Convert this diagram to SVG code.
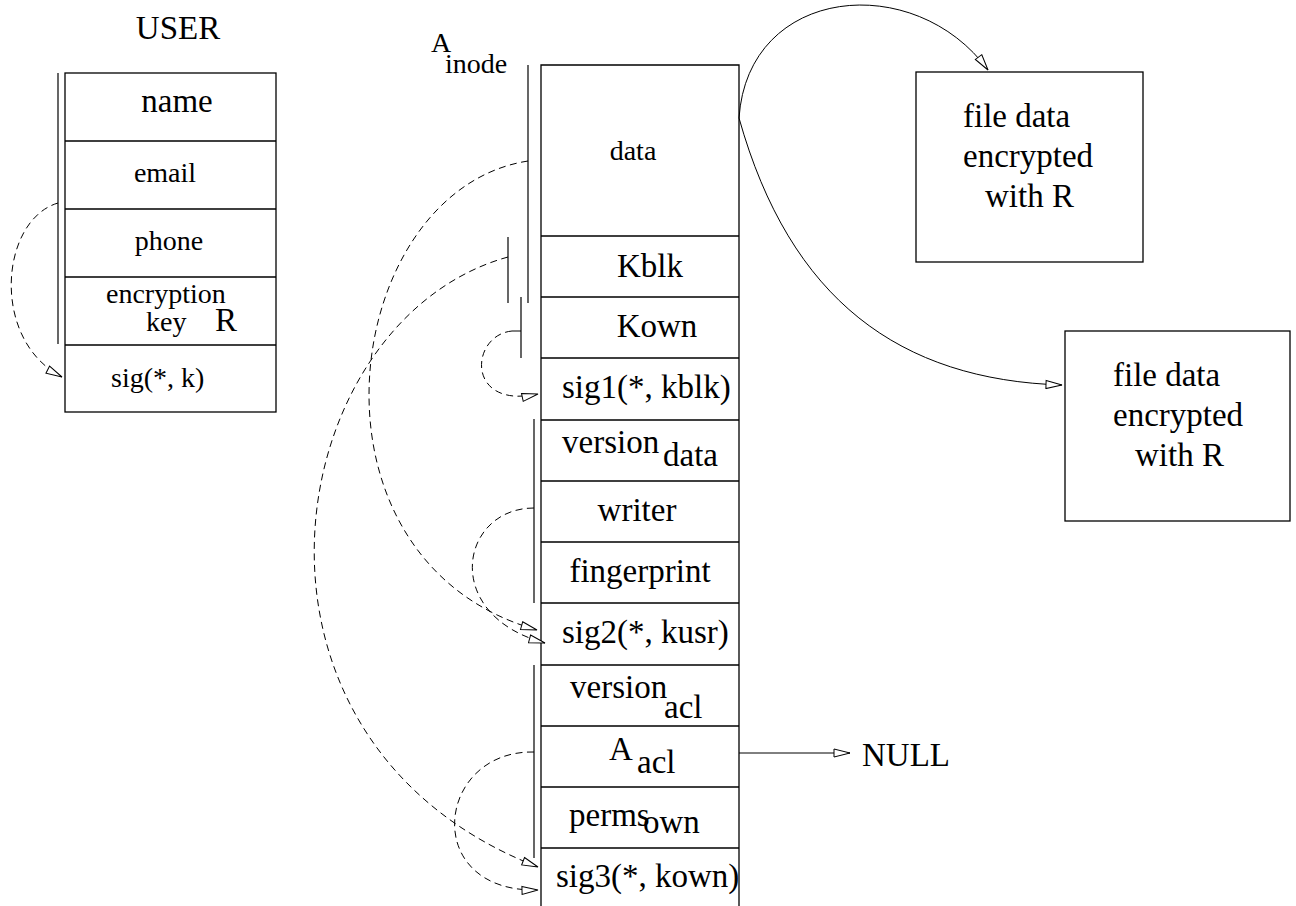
<svg xmlns="http://www.w3.org/2000/svg" width="1296" height="906" viewBox="0 0 1296 906">
  <style>
    text { font-family: "Liberation Serif", "Times New Roman", serif; fill: #000; }
    .f33 { font-size: 33px; }
    .f28 { font-size: 28px; }
    .mid { text-anchor: middle; }
    .box { fill: none; stroke: #000; stroke-width: 1.3; }
    .rule { stroke: #000; stroke-width: 1.3; fill: none; }
    .bar { stroke: #000; stroke-width: 1.2; fill: none; }
    .dash { fill: none; stroke: #000; stroke-width: 1; stroke-dasharray: 7 4.5; marker-end: url(#open); }
    .solid { fill: none; stroke: #000; stroke-width: 1; marker-end: url(#open); }
  </style>
  <defs>
    <marker id="open" viewBox="0 0 18 10" refX="17" refY="5" markerWidth="18" markerHeight="10" markerUnits="userSpaceOnUse" orient="auto">
      <path d="M1,1 L17,5 L1,9 Z" fill="#fff" stroke="#000" stroke-width="1" stroke-dasharray="none"/>
    </marker>
  </defs>
  <rect width="1296" height="906" fill="#fff"/>

  <!-- user record -->
  <g id="user">
    <text class="f33 mid" x="178" y="39">USER</text>
    <rect class="box" x="65" y="73" width="211" height="339"/>
    <path class="rule" d="M65,141 H276 M65,209 H276 M65,277 H276 M65,345 H276"/>
    <line class="bar" x1="58" y1="73" x2="58" y2="344"/>
    <text class="f33 mid" x="177" y="112">name</text>
    <text class="f28 mid" x="165" y="182">email</text>
    <text class="f28 mid" x="169" y="250">phone</text>
    <text class="f28" x="106" y="303">encryption</text>
    <text class="f28" x="146" y="331">key</text>
    <text class="f33" x="215" y="331">R</text>
    <text class="f28" x="111" y="387">sig(*, k)</text>
  </g>

  <!-- inode label -->
  <g id="inode-label">
    <text class="f28" x="431" y="52">A</text>
    <text class="f28" x="445" y="73">inode</text>
  </g>

  <!-- inode record -->
  <g id="inode">
    <path class="rule" d="M541,906 V65 H739 V906"/>
    <path class="rule" d="M541,236 H739 M541,297 H739 M541,358 H739 M541,420 H739 M541,481 H739 M541,542 H739 M541,603 H739 M541,665 H739 M541,726 H739 M541,787 H739 M541,848 H739"/>
    <text class="f28 mid" x="633" y="160">data</text>
    <text class="f33 mid" x="650" y="277">Kblk</text>
    <text class="f33 mid" x="657" y="337">Kown</text>
    <text class="f33" x="562" y="398">sig1(*, kblk)</text>
    <text class="f33" x="562" y="453">version</text>
    <text class="f33" x="663" y="466">data</text>
    <text class="f33 mid" x="637" y="521">writer</text>
    <text class="f33 mid" x="640" y="582">fingerprint</text>
    <text class="f33" x="562" y="643">sig2(*, kusr)</text>
    <text class="f33" x="570" y="698">version</text>
    <text class="f33" x="664" y="718">acl</text>
    <text class="f33" x="609" y="760">A</text>
    <text class="f33" x="637" y="773">acl</text>
    <text class="f33" x="569" y="826">perms</text>
    <text class="f33" x="643" y="833">own</text>
    <text class="f33" x="556" y="887">sig3(*, kown)</text>
  </g>

  <!-- signature coverage brackets -->
  <g id="brackets">
    <line class="bar" x1="528" y1="65" x2="528" y2="303"/>
    <line class="bar" x1="508" y1="237" x2="508" y2="303"/>
    <path class="bar" d="M521,297 V358 M521,331 H512"/>
    <line class="bar" x1="534" y1="419" x2="534" y2="603"/>
    <line class="bar" x1="534" y1="665" x2="534" y2="858"/>
  </g>

  <!-- encrypted data blocks -->
  <g id="block1">
    <rect class="box" x="916" y="72" width="227" height="190"/>
    <text class="f33" x="963" y="127">file data</text>
    <text class="f33" x="963" y="167">encrypted</text>
    <text class="f33" x="985" y="207">with R</text>
  </g>
  <g id="block2">
    <rect class="box" x="1065" y="331" width="225" height="190"/>
    <text class="f33" x="1113" y="386">file data</text>
    <text class="f33" x="1113" y="426">encrypted</text>
    <text class="f33" x="1135" y="466">with R</text>
  </g>

  <g id="null">
    <text class="f33" x="862" y="766">NULL</text>
  </g>

  <!-- connectors -->
  <g id="connectors">
    <path class="dash" d="M58,203 C0,220 -10,340 62,377"/>
    <path class="dash" d="M528,161 C340,190 290,560 537,630"/>
    <path class="dash" d="M508,257 C280,320 210,740 538,867"/>
    <path class="dash" d="M512,331 C470,335 465,410 538,394"/>
    <path class="dash" d="M534,508 C460,508 440,615 545,643"/>
    <path class="dash" d="M534,752 C435,750 420,893 538,890"/>
    <path class="solid" d="M739,118 C748,-15 915,-30 988,70"/>
    <path class="solid" d="M739,118 C790,300 900,380 1062,385"/>
    <path class="solid" d="M739,753 H850"/>
  </g>
</svg>
